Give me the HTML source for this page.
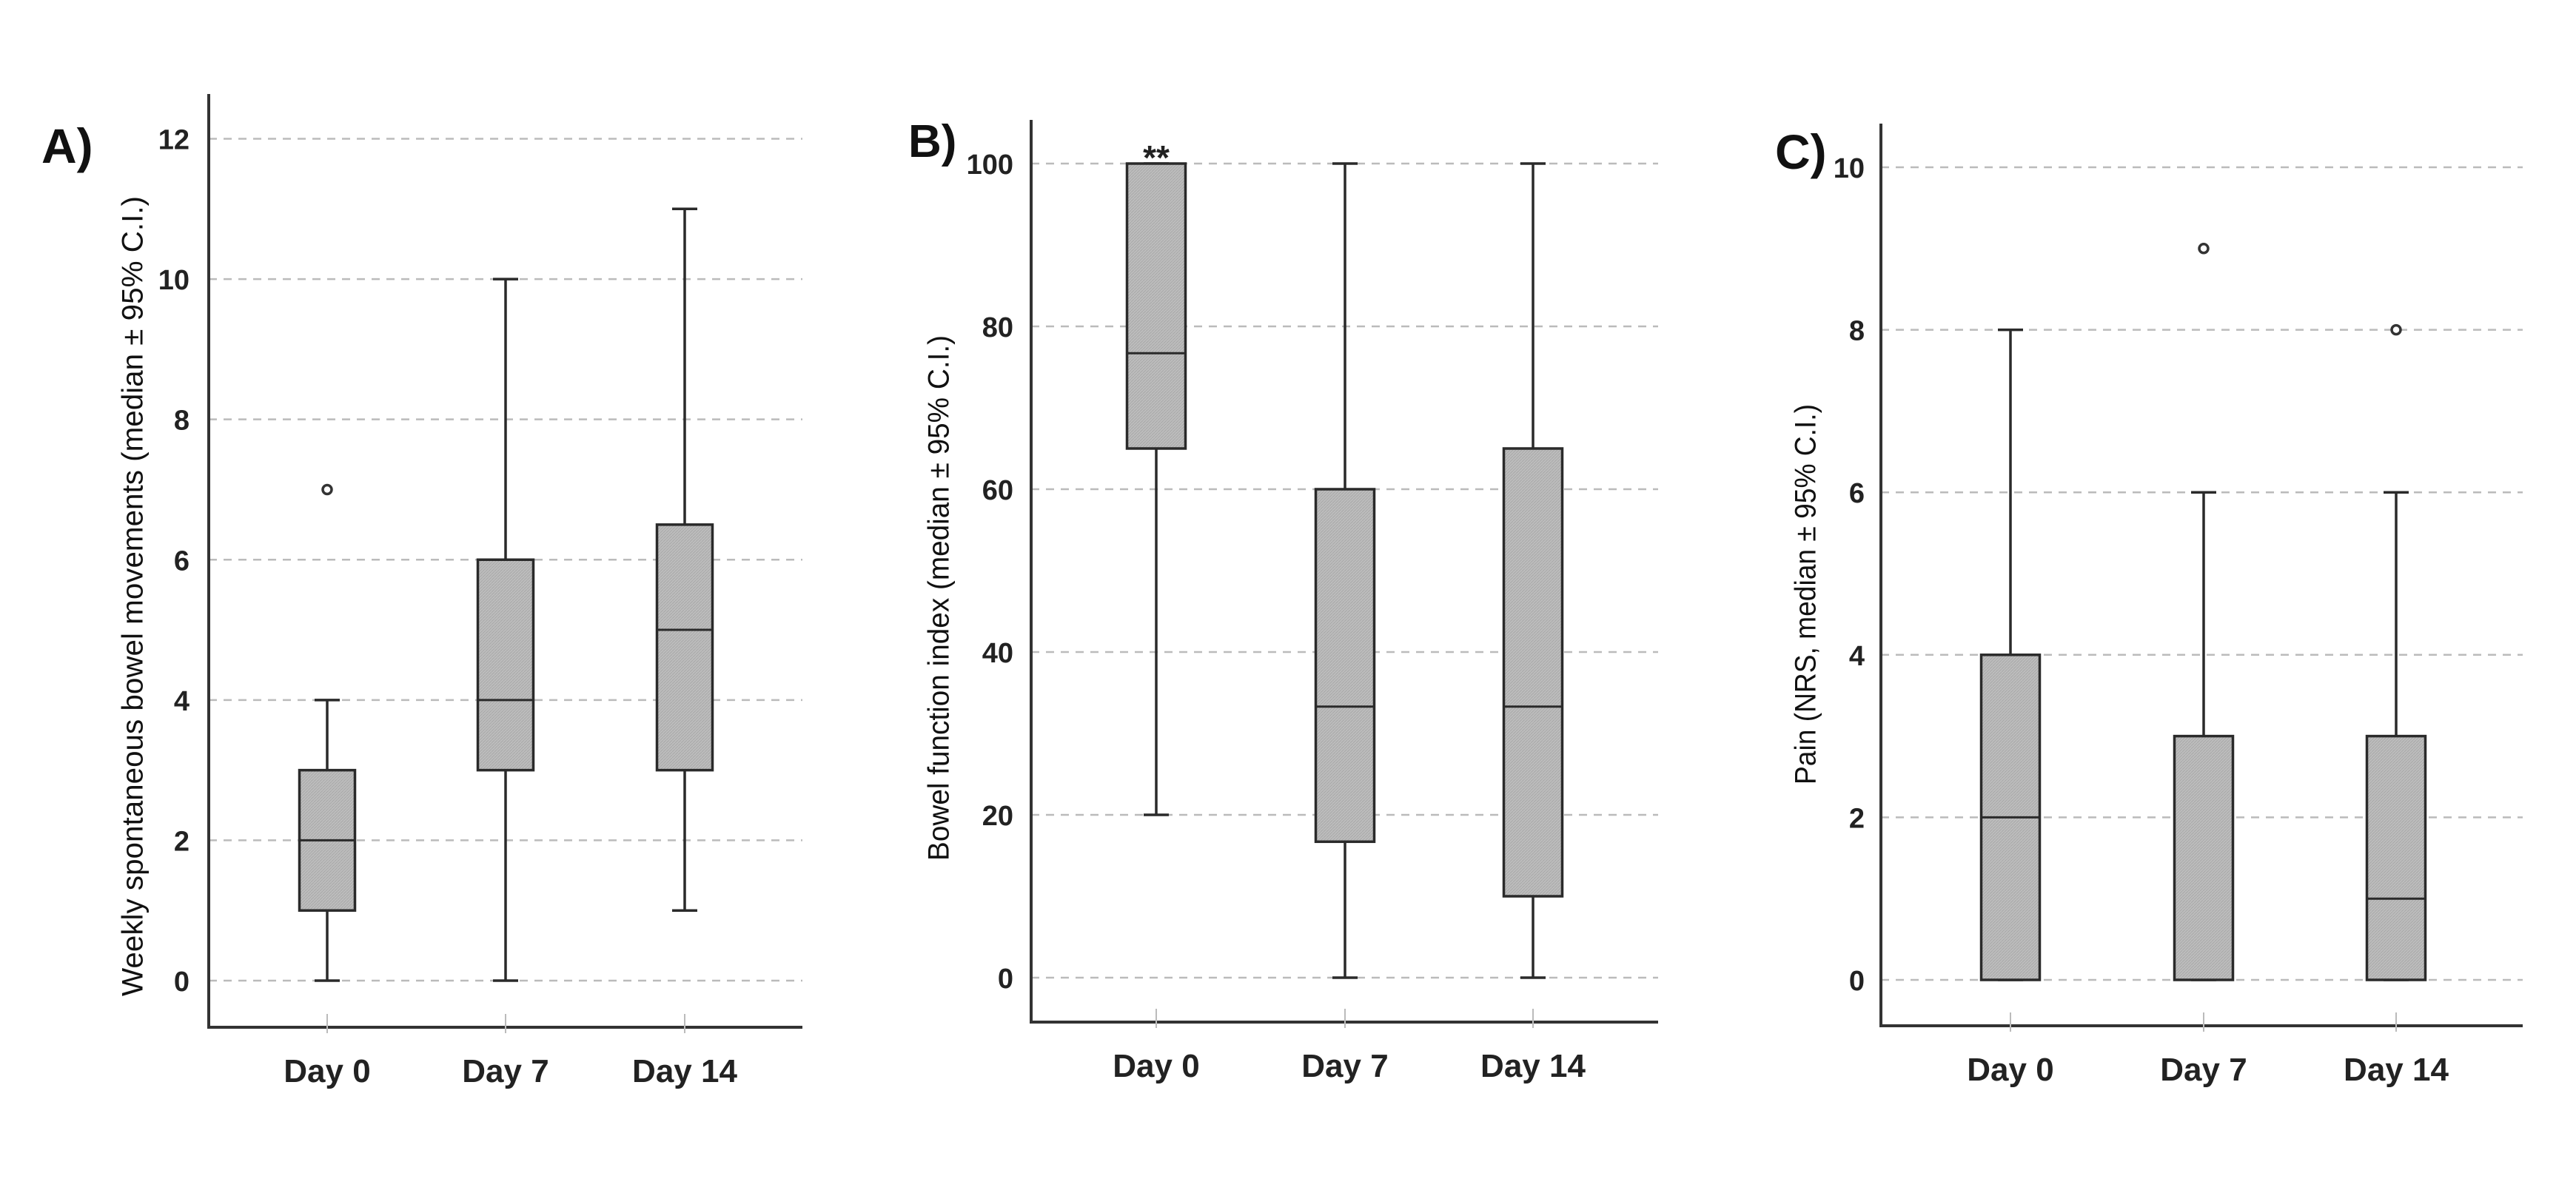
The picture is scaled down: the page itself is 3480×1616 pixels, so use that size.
<!DOCTYPE html>
<html><head><meta charset="utf-8"><style>
html,body{margin:0;padding:0;background:#fff;}
svg{display:block;font-family:"Liberation Sans",sans-serif;}
</style></head><body>
<svg id="chart" width="3480" height="1616" viewBox="0 0 3480 1616"></svg>
<script>
const categories = ["Day 0","Day 7","Day 14"];
// panel A: weekly spontaneous bowel movements
const aMin = [0,0,1];
const aQ1 = [1,3,3];
const aMed = [2,4,5];
const aQ3 = [3,6,6.5];
const aMax = [4,10,11];
const aOutliers = [[7],[],[]];
const aTicks = [0,2,4,6,8,10,12];
// panel B: bowel function index
const bMin = [20,0,0];
const bQ1 = [65,16.7,10];
const bMed = [76.7,33.3,33.3];
const bQ3 = [100,60,65];
const bMax = [100,100,100];
const bOutliers = [[],[],[]];
const bTicks = [0,20,40,60,80,100];
// panel C: pain NRS
const cMin = [0,0,0];
const cQ1 = [0,0,0];
const cMed = [2,0,1];
const cQ3 = [4,3,3];
const cMax = [8,6,6];
const cOutliers = [[],[9],[8]];
const cTicks = [0,2,4,6,8,10];

const NS="http://www.w3.org/2000/svg";
const svg=document.getElementById('chart');
function mk(tag,attrs,parent){const e=document.createElementNS(NS,tag);for(const k in attrs)e.setAttribute(k,attrs[k]);(parent||svg).appendChild(e);return e;}

const defs=mk('defs',{});
const pat=mk('pattern',{id:'hatch',width:4,height:4,patternUnits:'userSpaceOnUse'},defs);
mk('rect',{x:0,y:0,width:4,height:4,fill:'#bdbdbd'},pat);
mk('path',{d:'M0,4 L4,0',stroke:'#a8a8a8','stroke-width':1},pat);

const panels=[
 {id:'a',letter:'A)',lx:56,ly:220,lfs:66,axX:282,axTop:127,axBot:1388,axRight:1084,v0:0,v1:12,y0:1325,y1:187.5,centers:[442,683,925],bw:75,tickR:256,
  title:'Weekly spontaneous bowel movements (median ± 95% C.I.)',tx:182,tyTop:265,tyBot:1346,
  min:aMin,q1:aQ1,med:aMed,q3:aQ3,max:aMax,out:aOutliers,ticks:aTicks},
 {id:'b',letter:'B)',lx:1227,ly:212,lfs:62,axX:1393,axTop:162,axBot:1381,axRight:2240,v0:0,v1:100,y0:1321,y1:221,centers:[1562,1817,2071],bw:79,tickR:1369,
  title:'Bowel function index (median ± 95% C.I.)',tx:1271,tyTop:453,tyBot:1163,
  min:bMin,q1:bQ1,med:bMed,q3:bQ3,max:bMax,out:bOutliers,ticks:bTicks,star:true},
 {id:'c',letter:'C)',lx:2398,ly:228,lfs:66,axX:2541,axTop:167,axBot:1386,axRight:3408,v0:0,v1:10,y0:1324,y1:226,centers:[2716,2977,3237],bw:79,tickR:2519,
  title:'Pain (NRS, median ± 95% C.I.)',tx:2442,tyTop:546,tyBot:1060,
  min:cMin,q1:cQ1,med:cMed,q3:cQ3,max:cMax,out:cOutliers,ticks:cTicks}
];

panels.forEach(p=>{
 const g=mk('g',{});
 
 
 const y=v=>p.y0+(v-p.v0)/(p.v1-p.v0)*(p.y1-p.y0);
 const lab=mk('text',{x:p.lx,y:p.ly,'font-size':p.lfs,'font-weight':'bold',fill:'#111'},g);
 lab.textContent=p.letter;
 
 
 p.ticks.forEach(t=>{
  const gl=mk('line',{x1:p.axX,x2:p.axRight,y1:y(t),y2:y(t),stroke:'#bbb','stroke-width':2.5,'stroke-dasharray':'11,9'},g);
  
  
  const tl=mk('text',{x:p.tickR,y:y(t)+14,'text-anchor':'end','font-size':38,'font-weight':'bold',fill:'#222'},g);
  tl.textContent=t;
  
  
 });
 const ax=mk('path',{d:`M${p.axX},${p.axTop} L${p.axX},${p.axBot} L${p.axRight},${p.axBot}`,fill:'none',stroke:'#333','stroke-width':4},g);
 
 
 const tcy=(p.tyTop+p.tyBot)/2;
 const tt=mk('text',{x:p.tx,y:tcy,'text-anchor':'middle','font-size':40,fill:'#111',transform:`rotate(-90 ${p.tx} ${tcy})`,textLength:p.tyBot-p.tyTop,lengthAdjust:'spacingAndGlyphs','dominant-baseline':'middle'},g);
 tt.textContent=p.title;
 
 
 categories.forEach((c,i)=>{
  const cx=p.centers[i];
  mk('line',{x1:cx,x2:cx,y1:p.axBot-18,y2:p.axBot+8,stroke:'#bbb','stroke-width':2},g);
  const xl=mk('text',{x:cx,y:p.axBot+74,'text-anchor':'middle','font-size':44,'font-weight':'bold',fill:'#222'},g);
  xl.textContent=c;
  
  
  const bg=mk('g',{},g);
  
  
  const st={stroke:'#2a2a2a','stroke-width':3.5};
  mk('line',Object.assign({x1:cx,x2:cx,y1:y(p.max[i]),y2:y(p.q3[i])},st),bg);
  mk('line',Object.assign({x1:cx,x2:cx,y1:y(p.q1[i]),y2:y(p.min[i])},st),bg);
  mk('line',Object.assign({x1:cx-17,x2:cx+17,y1:y(p.max[i]),y2:y(p.max[i])},st),bg);
  mk('line',Object.assign({x1:cx-17,x2:cx+17,y1:y(p.min[i]),y2:y(p.min[i])},st),bg);
  const top=y(p.q3[i]),bot=y(p.q1[i]);
  mk('rect',Object.assign({x:cx-p.bw/2,y:top,width:p.bw,height:Math.max(bot-top,0.5),fill:'url(#hatch)'},st),bg);
  mk('line',{x1:cx-p.bw/2,x2:cx+p.bw/2,y1:y(p.med[i]),y2:y(p.med[i]),stroke:'#2a2a2a','stroke-width':3},bg);
  p.out[i].forEach(o=>{
   const oc=mk('circle',{cx:cx,cy:y(o),r:6,fill:'#fff',stroke:'#333','stroke-width':3.5},bg);
   
   
  });
 });
 if(p.star){
  const s=mk('text',{x:p.centers[0],y:y(p.max[0])+8,'text-anchor':'middle','font-size':46,'font-weight':'bold',fill:'#222'},g);
  s.textContent='**';
  
  
 }
});
</script>
</body></html>
